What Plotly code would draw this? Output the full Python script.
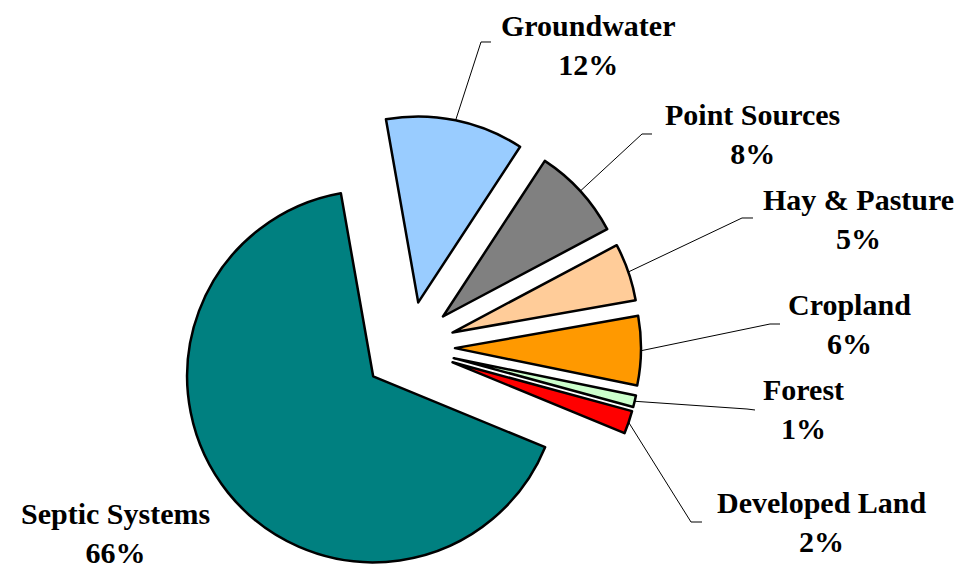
import math
import plotly.graph_objects as go

# ---- data ----
categories = ["Groundwater", "Point Sources", "Hay & Pasture", "Cropland",
              "Forest", "Developed Land", "Septic Systems"]
values = [12, 8, 5, 6, 1, 2, 66]
pct_labels = ["12%", "8%", "5%", "6%", "1%", "2%", "66%"]
colors = ["#99CCFF", "#808080", "#FFCC99", "#FF9900", "#CCFFCC", "#FF0000", "#008080"]

# ---- layout parameters (screen pixels) ----
VIEW_W, VIEW_H = 969, 571
OFF = 8                      # page body margin
FW, FH = VIEW_W - OFF, VIEW_H - OFF
ROTATION = -10.0
CX, CY = 409, 347.5          # centre of the un-exploded pie
R = 186                      # slice radius
EXPLODE = 46                 # explosion distance of every slice

# label block centres and leader elbows; None => no leader line
label_pos = [(588, 45), (752, 134), (858, 219), (849, 324), (803, 409), (822, 522), (115, 533)]
elbows = [[(481, 42), (491, 42)], [(642, 134), (652, 134)], [(742, 218), (753, 218)],
          [(770, 324), (780, 324)], [(747, 409), (755, 410)], [(691, 522), (702, 522)], None]

FONT = "Liberation Serif"

def px2paper(x, y):
    return (x - OFF) / FW, 1 - (y - OFF) / FH

fig = go.Figure()
total = sum(values)
cum = 0
shapes, annotations = [], []
for i, (cat, v) in enumerate(zip(categories, values)):
    theta = math.radians(ROTATION + 360 * (cum + v / 2) / total)
    cum += v
    # apex of the exploded slice
    ax = CX + EXPLODE * math.sin(theta)
    ay = CY - EXPLODE * math.cos(theta)
    # each slice drawn by its own pie (same values), only slice i visible
    slice_colors = ["rgba(0,0,0,0)"] * len(values)
    slice_colors[i] = colors[i]
    widths = [0] * len(values)
    widths[i] = 2.5
    x0, y1 = px2paper(ax - R, ay - R)
    x1, y0 = px2paper(ax + R, ay + R)
    fig.add_trace(go.Pie(
        labels=categories, values=values, sort=False, direction="clockwise",
        rotation=ROTATION,
        marker=dict(colors=slice_colors, line=dict(color="black", width=widths)),
        textinfo="none", hoverinfo="skip", showlegend=False,
        domain=dict(x=[x0, x1], y=[y0, y1]),
    ))
    # leader line from arc midpoint
    sx = ax + R * math.sin(theta)
    sy = ay - R * math.cos(theta)
    if elbows[i] is not None:
        pts = [(sx, sy)] + elbows[i]
        path = ""
        for j, (x, y) in enumerate(pts):
            xp, yp = px2paper(x, y)
            path += ("M" if j == 0 else " L") + f"{xp:.5f},{yp:.5f}"
        shapes.append(dict(type="path", path=path, xref="paper", yref="paper",
                           line=dict(color="black", width=1)))
    lx, ly = px2paper(*label_pos[i])
    annotations.append(dict(
        x=lx, y=ly, xref="paper", yref="paper", showarrow=False,
        text=f"<b>{cat}<br>{pct_labels[i]}</b>", align="center",
        xanchor="center", yanchor="middle",
        font=dict(family=FONT, size=30, color="black"),
    ))

fig.update_layout(
    width=FW, height=FH, margin=dict(l=0, r=0, t=0, b=0),
    paper_bgcolor="white", plot_bgcolor="white",
    shapes=shapes, annotations=annotations,
)

fig.write_html("out.html")
